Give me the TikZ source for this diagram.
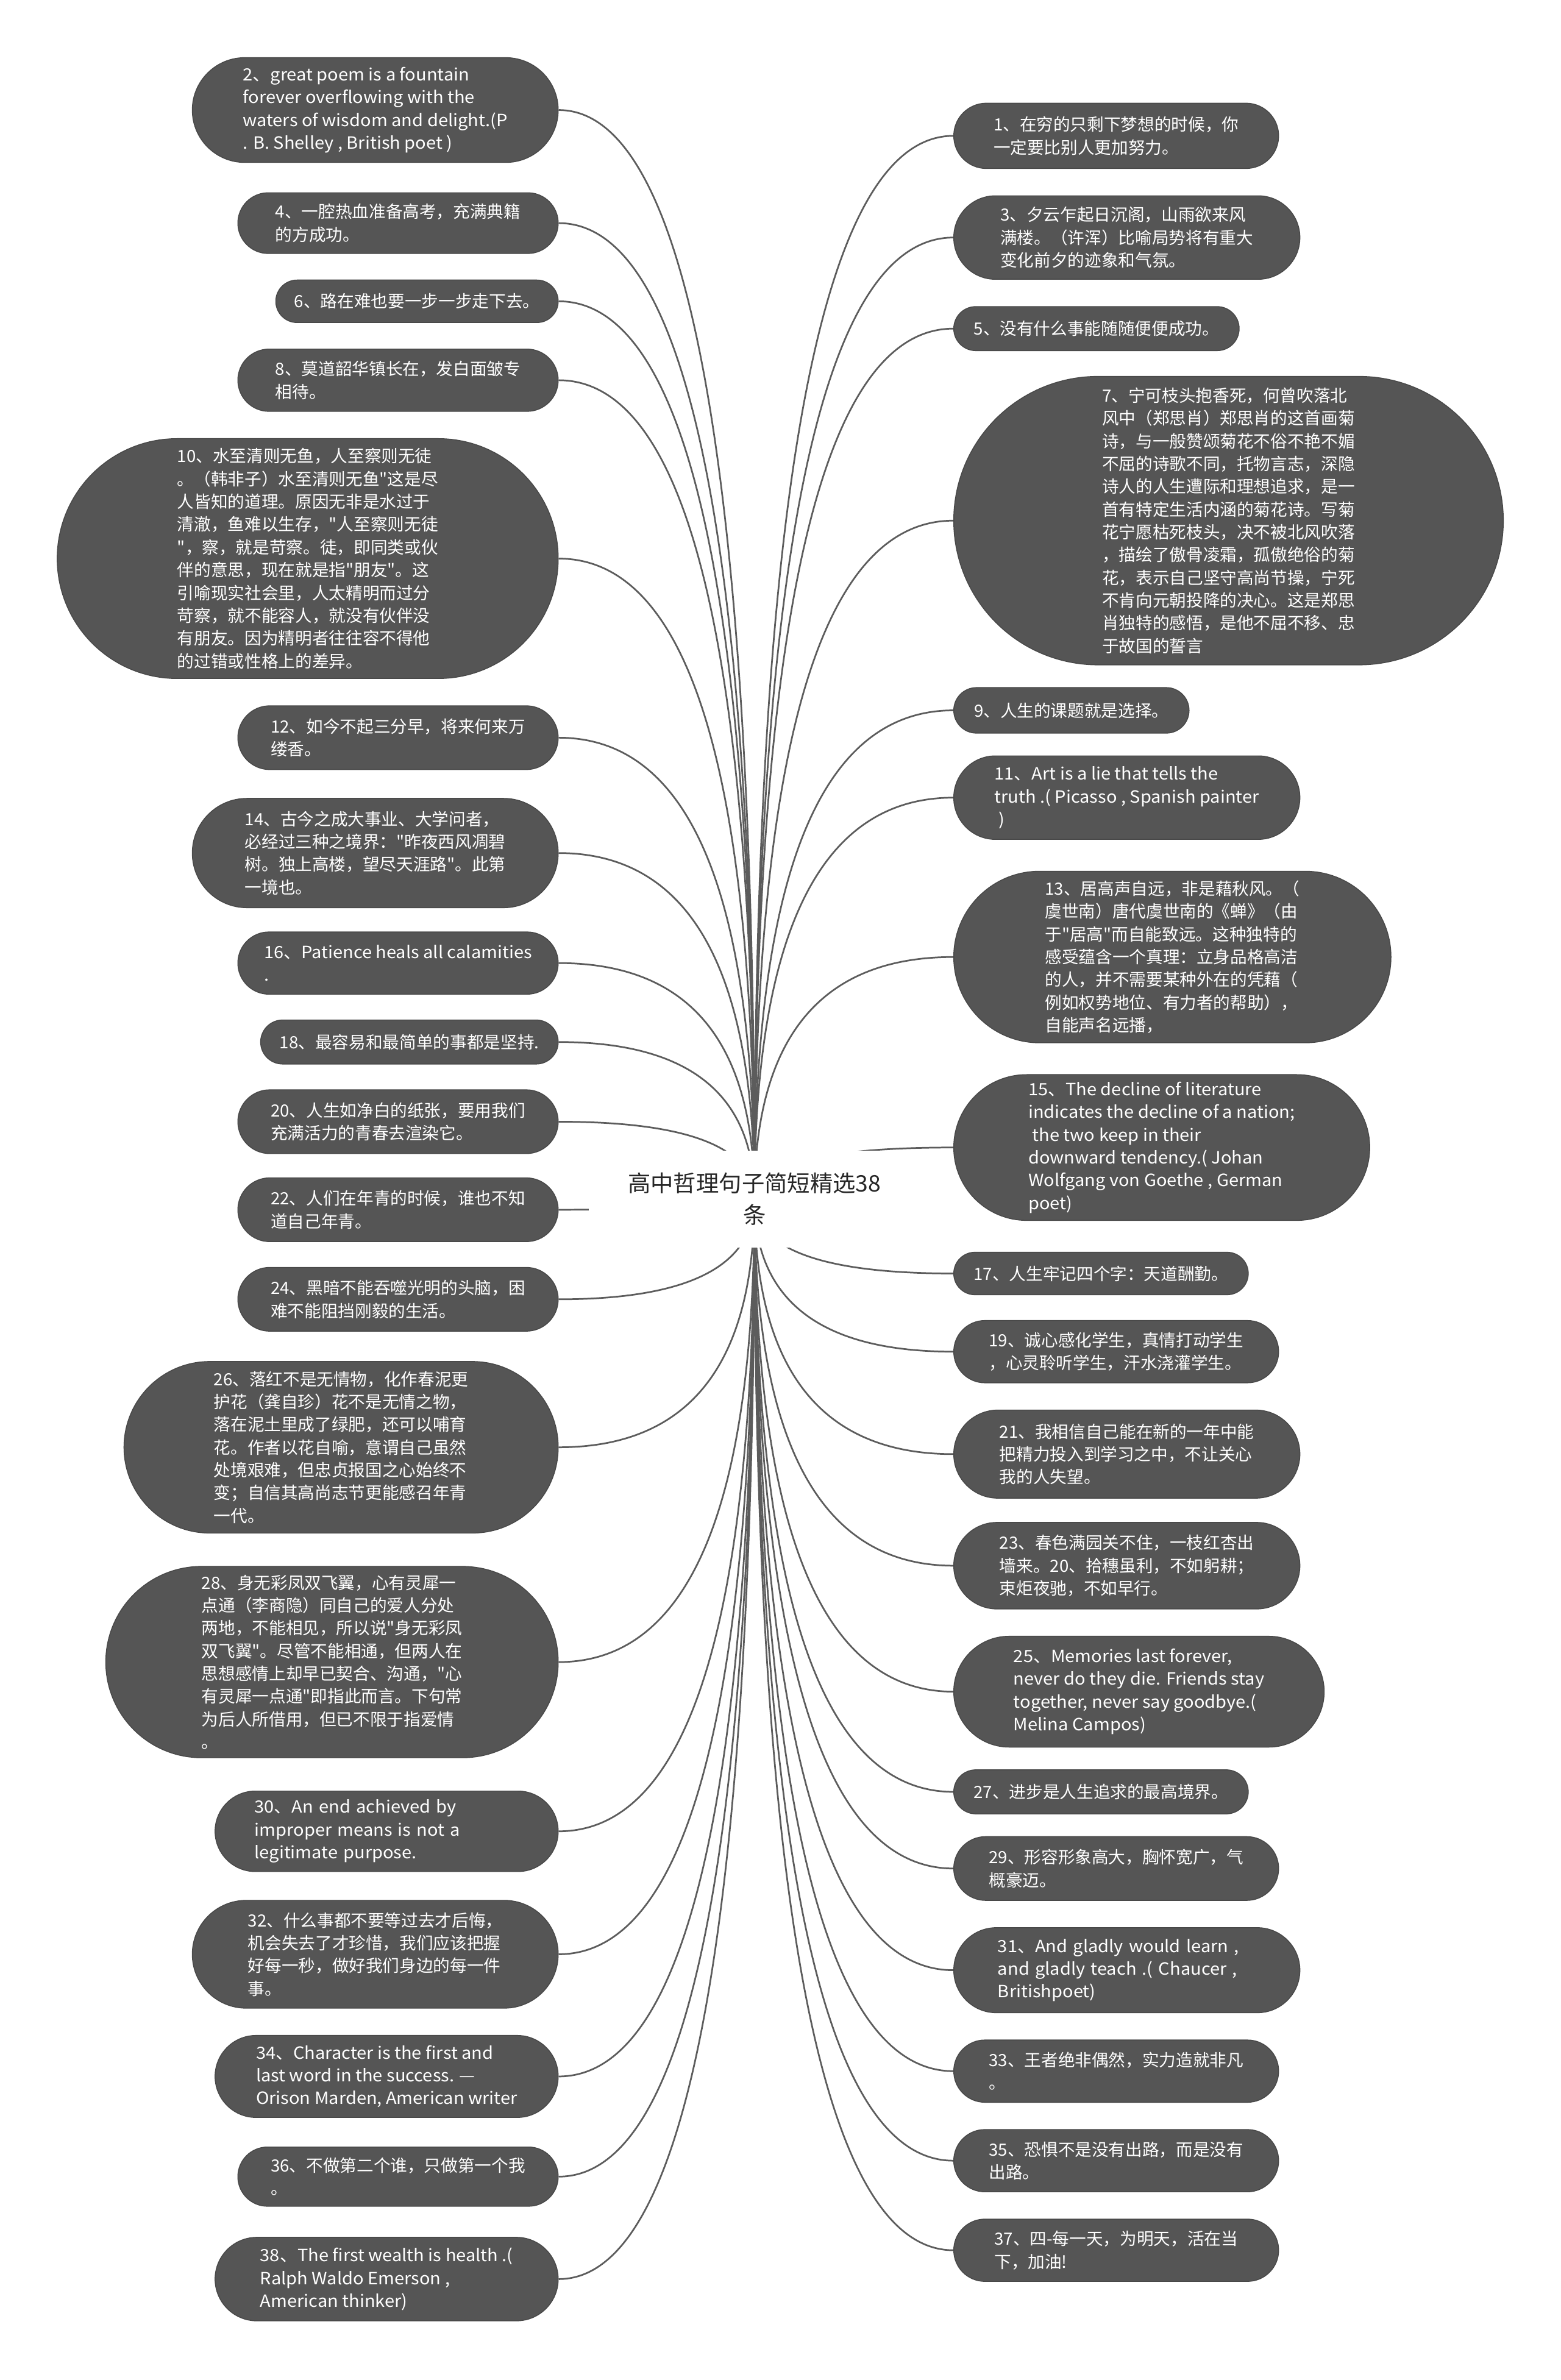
\documentclass[tikz,border=0pt]{standalone}
\usepackage{fontspec}
\setmainfont{Noto Sans CJK SC}[Ligatures=TeXOff]
\newfontfamily\latinwide{Noto Sans CJK SC}[Ligatures=TeXOff, FakeStretch=1.05]
\usetikzlibrary{shapes.misc,calc,backgrounds}
\definecolor{leafgray}{HTML}{555555}
\definecolor{linkgray}{HTML}{5C5C5C}

\begin{document}
\begin{tikzpicture}[x=1pt, y=-1pt,
  leaf/.style={rounded rectangle, fill=leafgray, draw=leafgray!85!black, line width=0.6pt,
    text=white, align=left, inner xsep=0pt, inner ysep=4pt,
    font=\fontsize{11.1}{15}\selectfont},
  eng/.style={font=\fontsize{11.1}{15}\latinwide},
  hub/.style={fill=white, align=center, minimum width=218, minimum height=64,
    inner sep=0pt, text=black!85, font=\fontsize{15}{21}\selectfont},
  link/.style={linkgray, line width=1.1pt}]
\useasboundingbox (0,0) rectangle (1028,1568);
% root
\node[hub] (root) at (497,790) {高中哲理句子简短精选38\\条};
% left branch (even numbers)
\node[leaf, eng, anchor=east, minimum width=241, minimum height=69] (n2) at (368,72.5)
 {2、great poem is a fountain\\forever overflowing with the\\waters of wisdom and delight.(P\\. B. Shelley , British poet )};
\node[leaf, anchor=east, minimum width=211, minimum height=40] (n4) at (368,147)
 {4、一腔热血准备高考，充满典籍\\的方成功。};
\node[leaf, anchor=east, minimum width=186, minimum height=28] (n6) at (368,198.5)
 {6、路在难也要一步一步走下去。};
\node[leaf, anchor=east, minimum width=211, minimum height=41] (n8) at (368,250.5)
 {8、莫道韶华镇长在，发白面皱专\\相待。};
\node[leaf, anchor=east, minimum width=330, minimum height=158] (n10) at (368,368)
 {10、水至清则无鱼，人至察则无徒\\。（韩非子）水至清则无鱼"这是尽\\人皆知的道理。原因无非是水过于\\清澈，鱼难以生存，"人至察则无徒\\"，察，就是苛察。徒，即同类或伙\\伴的意思，现在就是指"朋友"。这\\引喻现实社会里，人太精明而过分\\苛察，就不能容人，就没有伙伴没\\有朋友。因为精明者往往容不得他\\的过错或性格上的差异。};
\node[leaf, anchor=east, minimum width=211, minimum height=42] (n12) at (368,486)
 {12、如今不起三分早，将来何来万\\缕香。};
\node[leaf, anchor=east, minimum width=241, minimum height=72] (n14) at (368,562)
 {14、古今之成大事业、大学问者，\\必经过三种之境界："昨夜西风凋碧\\树。独上高楼，望尽天涯路"。此第\\一境也。};
\node[leaf, eng, anchor=east, minimum width=211, minimum height=41] (n16) at (368,634.5)
 {16、Patience heals all calamities\\.};
\node[leaf, anchor=east, minimum width=196, minimum height=29] (n18) at (368,686.5)
 {18、最容易和最简单的事都是坚持.};
\node[leaf, anchor=east, minimum width=211, minimum height=42] (n20) at (368,739)
 {20、人生如净白的纸张，要用我们\\充满活力的青春去渲染它。};
\node[leaf, anchor=east, minimum width=211, minimum height=42] (n22) at (368,797)
 {22、人们在年青的时候，谁也不知\\道自己年青。};
\node[leaf, anchor=east, minimum width=211, minimum height=42] (n24) at (368,856)
 {24、黑暗不能吞噬光明的头脑，困\\难不能阻挡刚毅的生活。};
\node[leaf, anchor=east, minimum width=286, minimum height=113] (n26) at (368,953.5)
 {26、落红不是无情物，化作春泥更\\护花（龚自珍）花不是无情之物，\\落在泥土里成了绿肥，还可以哺育\\花。作者以花自喻，意谓自己虽然\\处境艰难，但忠贞报国之心始终不\\变；自信其高尚志节更能感召年青\\一代。};
\node[leaf, anchor=east, minimum width=298, minimum height=126] (n28) at (368,1095)
 {28、身无彩凤双飞翼，心有灵犀一\\点通（李商隐）同自己的爱人分处\\两地，不能相见，所以说"身无彩凤\\双飞翼"。尽管不能相通，但两人在\\思想感情上却早已契合、沟通，"心\\有灵犀一点通"即指此而言。下句常\\为后人所借用，但已不限于指爱情\\。};
\node[leaf, eng, anchor=east, minimum width=226, minimum height=53, text width=174] (n30) at (368,1206.5)
 {30、An end achieved by\\improper means is not a\\legitimate purpose.};
\node[leaf, anchor=east, minimum width=241, minimum height=71] (n32) at (368,1287.5)
 {32、什么事都不要等过去才后悔，\\机会失去了才珍惜，我们应该把握\\好每一秒，做好我们身边的每一件\\事。};
\node[leaf, eng, anchor=east, minimum width=226, minimum height=54] (n34) at (368,1368)
 {34、Character is the first and\\last word in the success. —\\Orison Marden, American writer};
\node[leaf, anchor=east, minimum width=211, minimum height=39] (n36) at (368,1434)
 {36、不做第二个谁，只做第一个我\\。};
\node[leaf, eng, anchor=east, minimum width=226, minimum height=55] (n38) at (368,1501.5)
 {38、The first wealth is health .(\\Ralph Waldo Emerson ,\\American thinker)};
% right branch (odd numbers)
\node[leaf, anchor=west, minimum width=214, minimum height=43] (n1) at (628,89.5)
 {1、在穷的只剩下梦想的时候，你\\一定要比别人更加努力。};
\node[leaf, anchor=west, minimum width=228, minimum height=55] (n3) at (628,156.5)
 {3、夕云乍起日沉阁，山雨欲来风\\满楼。（许浑）比喻局势将有重大\\变化前夕的迹象和气氛。};
\node[leaf, anchor=west, minimum width=188, minimum height=29] (n5) at (628,216.5)
 {5、没有什么事能随随便便成功。};
\node[leaf, anchor=west, minimum width=362, minimum height=190] (n7) at (628,343)
 {7、宁可枝头抱香死，何曾吹落北\\风中（郑思肖）郑思肖的这首画菊\\诗，与一般赞颂菊花不俗不艳不媚\\不屈的诗歌不同，托物言志，深隐\\诗人的人生遭际和理想追求，是一\\首有特定生活内涵的菊花诗。写菊\\花宁愿枯死枝头，决不被北风吹落\\，描绘了傲骨凌霜，孤傲绝俗的菊\\花，表示自己坚守高尚节操，宁死\\不肯向元朝投降的决心。这是郑思\\肖独特的感悟，是他不屈不移、忠\\于故国的誓言};
\node[leaf, anchor=west, minimum width=155, minimum height=30] (n9) at (628,468)
 {9、人生的课题就是选择。};
\node[leaf, eng, anchor=west, minimum width=228, minimum height=55] (n11) at (628,525.5)
 {11、Art is a lie that tells the\\truth .( Picasso , Spanish painter\\\ )};
\node[leaf, anchor=west, minimum width=288, minimum height=113] (n13) at (628,630.5)
 {13、居高声自远，非是藉秋风。（\\虞世南）唐代虞世南的《蝉》（由\\于"居高"而自能致远。这种独特的\\感受蕴含一个真理：立身品格高洁\\的人，并不需要某种外在的凭藉（\\例如权势地位、有力者的帮助），\\自能声名远播，};
\node[leaf, eng, anchor=west, minimum width=274, minimum height=96] (n15) at (628,756)
 {15、The decline of literature\\indicates the decline of a nation;\\\ the two keep in their\\downward tendency.( Johan\\Wolfgang von Goethe , German\\poet)};
\node[leaf, anchor=west, minimum width=194, minimum height=28] (n17) at (628,839)
 {17、人生牢记四个字：天道酬勤。};
\node[leaf, anchor=west, minimum width=214, minimum height=41] (n19) at (628,890.5)
 {19、诚心感化学生，真情打动学生\\，心灵聆听学生，汗水浇灌学生。};
\node[leaf, anchor=west, minimum width=228, minimum height=58] (n21) at (628,958)
 {21、我相信自己能在新的一年中能\\把精力投入到学习之中，不让关心\\我的人失望。};
\node[leaf, anchor=west, minimum width=228, minimum height=57] (n23) at (628,1031.5)
 {23、春色满园关不住，一枝红杏出\\墙来。20、拾穗虽利，不如躬耕；\\束炬夜驰，不如早行。};
\node[leaf, eng, anchor=west, minimum width=244, minimum height=73] (n25) at (628,1114.5)
 {25、Memories last forever,\\never do they die. Friends stay\\together, never say goodbye.(\\Melina Campos)};
\node[leaf, anchor=west, minimum width=194, minimum height=29] (n27) at (628,1180.5)
 {27、进步是人生追求的最高境界。};
\node[leaf, anchor=west, minimum width=214, minimum height=42] (n29) at (628,1231)
 {29、形容形象高大，胸怀宽广，气\\概豪迈。};
\node[leaf, eng, anchor=west, minimum width=228, minimum height=56, text width=170] (n31) at (628,1298)
 {31、And gladly would learn ,\\and gladly teach .( Chaucer ,\\Britishpoet)};
\node[leaf, anchor=west, minimum width=214, minimum height=41] (n33) at (628,1364.5)
 {33、王者绝非偶然，实力造就非凡\\。};
\node[leaf, anchor=west, minimum width=214, minimum height=41] (n35) at (628,1423.5)
 {35、恐惧不是没有出路，而是没有\\出路。};
\node[leaf, anchor=west, minimum width=214, minimum height=41] (n37) at (628,1482.5)
 {37、四-每一天，为明天，活在当\\下，加油!};
% connectors, behind the root
\begin{scope}[on background layer]
\foreach \n in {2,4,...,38}
  \draw[link] (root.center) .. controls ($(root.center)!2/3!(root.center |- n\n.east)$)
    and ($(n\n.east)!2/3!(root.center |- n\n.east)$) .. (n\n.east);
\foreach \n in {1,3,...,37}
  \draw[link] (root.center) .. controls ($(root.center)!2/3!(root.center |- n\n.west)$)
    and ($(n\n.west)!2/3!(root.center |- n\n.west)$) .. (n\n.west);
\end{scope}
\end{tikzpicture}
\end{document}
